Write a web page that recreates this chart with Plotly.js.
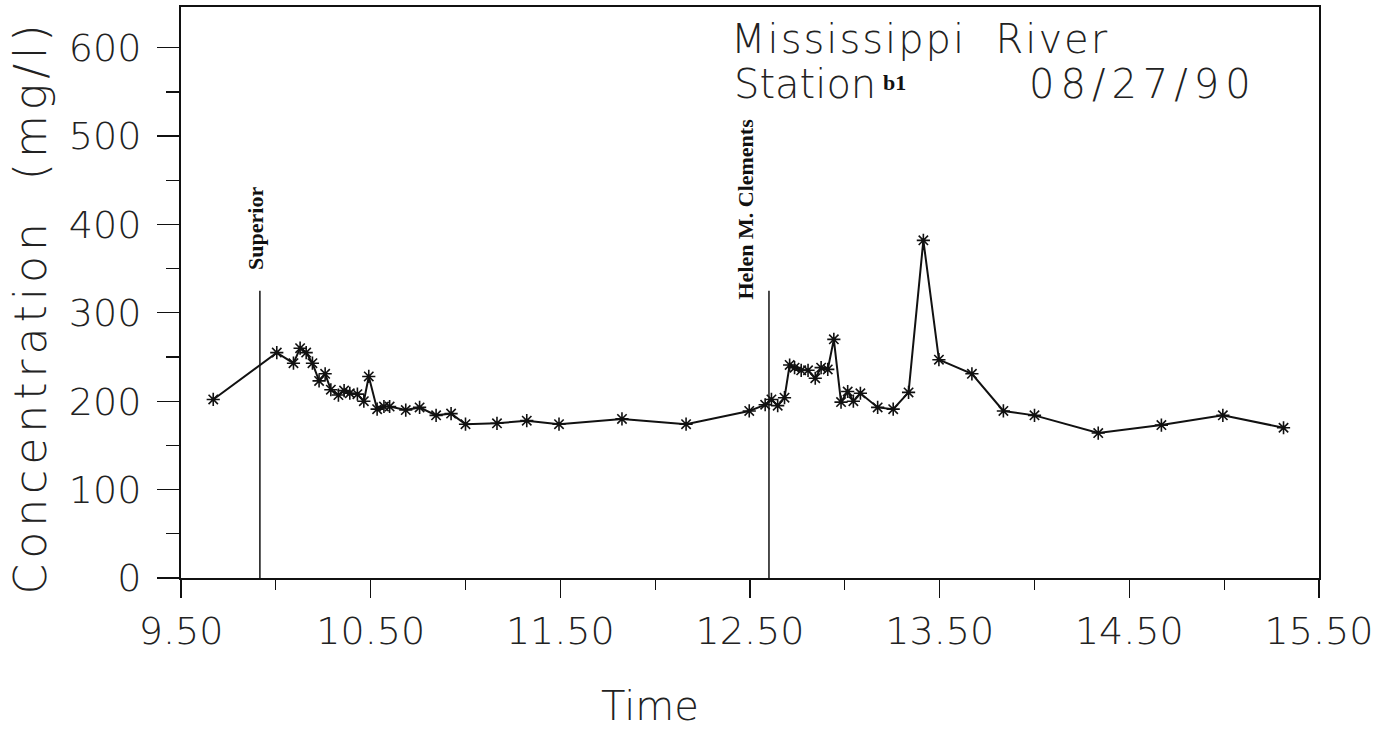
<!DOCTYPE html>
<html>
<head>
<meta charset="utf-8">
<script src="https://cdn.plot.ly/plotly-3.0.1.min.js"></script>
<style>
  html, body { margin: 0; padding: 0; background: #fff; }
  #chart { width: 1379px; height: 732px; }
</style>
</head>
<body>
<div id="chart"></div>
<script>
// Sampling times (decimal hours)
const times = [
  9.67, 10.005, 10.093, 10.128, 10.16, 10.193, 10.228, 10.26, 10.29, 10.33,
  10.36, 10.39, 10.43, 10.464, 10.49, 10.534, 10.57, 10.60, 10.685, 10.758,
  10.845, 10.924, 11.00, 11.166, 11.323, 11.493, 11.825, 12.163, 12.496, 12.58,
  12.613, 12.646, 12.682, 12.709, 12.735, 12.77, 12.806, 12.844, 12.875, 12.91,
  12.942, 12.98, 13.015, 13.045, 13.082, 13.173, 13.255, 13.336, 13.414, 13.496,
  13.67, 13.836, 14.0, 14.336, 14.669, 14.993, 15.313
];
// Concentration (mg/l)
const concentration = [
  202, 255, 243, 260, 255, 243, 223, 231, 213, 207,
  212, 209, 208, 200, 228, 191, 194, 194, 190, 193,
  184, 186, 174, 175, 178, 174, 180, 174, 189, 196,
  202, 195, 204, 241, 238, 235, 235, 226, 238, 236,
  270, 199, 211, 200, 209, 193, 191, 210, 382, 247,
  231, 189, 184, 164, 173, 184, 170
];
// Vessel passage events
const eventNames = ["Superior", "Helen M. Clements"];
const eventTimes = [9.916, 12.60];
const eventTop = [325, 325];
const eventLabelY = [396, 418];
const eventLabelShift = [-4, -23];

// Axis ticks
const xTickVals = [9.5, 10.5, 11.5, 12.5, 13.5, 14.5, 15.5];
const xTickText = ["9.50", "10.50", "11.50", "12.50", "13.50", "14.50", "15.50"];
const yTickVals = [0, 100, 200, 300, 400, 500, 600];
const yTickText = ["0", "100", "200", "300", "400", "500", "600"];

const sansFont = '"DejaVu Sans Light", "DejaVu Sans", sans-serif';
const serifFont = '"Liberation Serif", "DejaVu Serif", serif';

const traces = [{
  x: times,
  y: concentration,
  type: 'scatter',
  mode: 'lines+markers',
  line: { color: '#111', width: 2 },
  marker: { symbol: 'asterisk-open', size: 11, color: '#111', line: { color: '#111', width: 1.6 } },
  hoverinfo: 'x+y',
  showlegend: false
}];

const shapes = eventTimes.map((t, i) => ({
  type: 'line', xref: 'x', yref: 'y',
  x0: t, x1: t, y0: 0, y1: eventTop[i],
  line: { color: '#111', width: 1.5 }
}));

const annotations = eventNames.map((name, i) => ({
  x: eventTimes[i], y: eventLabelY[i], xref: 'x', yref: 'y',
  text: name, textangle: -90, showarrow: false,
  xanchor: 'center', yanchor: 'middle', xshift: eventLabelShift[i],
  font: { family: serifFont, size: 22, color: '#111', weight: 'bold' }
}));

annotations.push(
  { xref: 'paper', yref: 'paper', x: 0.650, y: 0.944, xanchor: 'center', yanchor: 'middle',
    text: 'Mississippi  River', showarrow: false,
    font: { family: sansFont, size: 40, color: '#222', weight: 200 } },
  { xref: 'paper', yref: 'paper', x: 0.548, y: 0.8651, xanchor: 'center', yanchor: 'middle',
    text: 'Station', showarrow: false,
    font: { family: sansFont, size: 40, color: '#222', weight: 200 } },
  { xref: 'paper', yref: 'paper', x: 0.627, y: 0.868, xanchor: 'center', yanchor: 'middle',
    text: 'b1', showarrow: false,
    font: { family: serifFont, size: 22, color: '#111', weight: 'bold' } },
  { xref: 'paper', yref: 'paper', x: 0.845, y: 0.8651, xanchor: 'center', yanchor: 'middle',
    text: '08/27/90', showarrow: false,
    font: { family: sansFont, size: 40, color: '#222', weight: 200 } },
  { xref: 'paper', yref: 'paper', x: -0.1327, y: 0.4746, xanchor: 'center', yanchor: 'middle',
    text: 'Concentration  (mg/l)', textangle: -90, showarrow: false,
    font: { family: sansFont, size: 44, color: '#222', weight: 200 } },
  { xref: 'paper', yref: 'paper', x: 0.412, y: -0.224, xanchor: 'center', yanchor: 'middle',
    text: 'Time', showarrow: false,
    font: { family: sansFont, size: 40, color: '#222', weight: 200 } }
);

const layout = {
  width: 1379, height: 732,
  margin: { l: 181, r: 60, t: 7, b: 154, pad: 0 },
  paper_bgcolor: '#fff', plot_bgcolor: '#fff',
  showlegend: false,
  xaxis: {
    range: [9.5, 15.5], showgrid: false, zeroline: false,
    showline: true, linecolor: '#111', linewidth: 2, mirror: true,
    ticks: 'outside', ticklen: 18, tickwidth: 1.3, tickcolor: '#111',
    tickvals: xTickVals, ticktext: xTickText, ticklabelstandoff: 0,
    tickfont: { family: sansFont, size: 38, color: '#222', weight: 200 },
    minor: { dtick: 0.5, tick0: 9.5, ticks: 'outside', ticklen: 10, tickwidth: 1.3, tickcolor: '#111', showgrid: false }
  },
  yaxis: {
    range: [0, 646], showgrid: false, zeroline: false,
    showline: true, linecolor: '#111', linewidth: 2, mirror: true,
    ticks: 'outside', ticklen: 22, tickwidth: 1.3, tickcolor: '#111',
    tickvals: yTickVals, ticktext: yTickText, ticklabelstandoff: 8,
    tickfont: { family: sansFont, size: 38, color: '#222', weight: 200 },
    minor: { dtick: 50, tick0: 0, ticks: 'outside', ticklen: 13, tickwidth: 1.3, tickcolor: '#111', showgrid: false }
  },
  shapes: shapes,
  annotations: annotations
};

const spacing = { 'Concentration': '5px', 'Mississippi': '2px', '08/27/90': '6px' };

Plotly.newPlot('chart', traces, layout, { staticPlot: true, displayModeBar: false }).then(() => {
  document.querySelectorAll('#chart text').forEach(t => {
    Object.keys(spacing).forEach(k => {
      if (t.textContent.indexOf(k) === 0) t.style.letterSpacing = spacing[k];
    });
  });
});
</script>
</body>
</html>
